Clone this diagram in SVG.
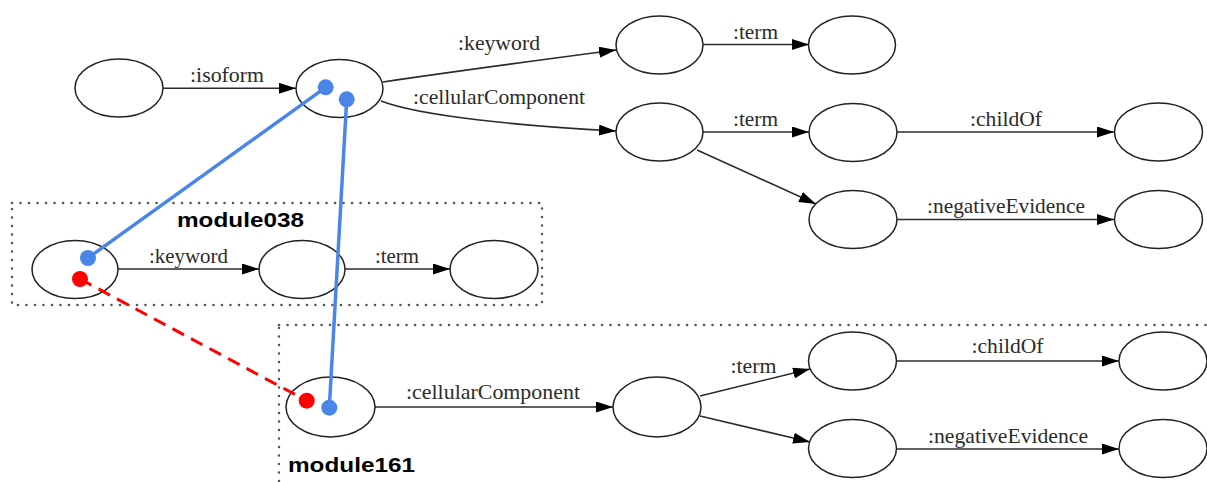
<svg xmlns="http://www.w3.org/2000/svg" width="1207" height="482" viewBox="0 0 1207 482">
<style>
.n{fill:#fff;stroke:#222;stroke-width:1.5}
.e{fill:none;stroke:#2b2b2b;stroke-width:1.6;marker-end:url(#ah)}
.l{font-family:"Liberation Serif","Times New Roman",serif;font-size:21px;fill:#2b2b2b;text-anchor:middle}
.m{font-family:"Liberation Sans",Arial,sans-serif;font-size:21px;font-weight:bold;fill:#000}
.box{fill:none;stroke:#555;stroke-width:2.5;stroke-dasharray:0.1 8.4;stroke-linecap:round}
.bl{stroke:#4a86e8;stroke-width:3.5;fill:none}
.rd{stroke:#ff0000;stroke-width:3;fill:none;stroke-dasharray:13 8}
</style>
<defs>
<marker id="ah" markerUnits="userSpaceOnUse" markerWidth="18" markerHeight="12" refX="17" refY="5.5" orient="auto">
<path d="M0,0 L17,5.5 L0,11 z" fill="#000"/>
</marker>
</defs>
<rect width="1207" height="482" fill="#fff"/>

<g id="clusters">
<rect class="box" x="12" y="203" width="530" height="102"/>
<text class="m" x="177" y="227" textLength="127" lengthAdjust="spacingAndGlyphs" font-size="20">module038</text>
<rect class="box" x="279" y="325" width="940" height="175"/>
<text class="m" x="288" y="472" textLength="127" lengthAdjust="spacingAndGlyphs">module161</text>
</g>

<g id="connectors">
<path class="e" d="M163,88.3 L296,88.3"/>
<path class="e" d="M383,82 C450,72 540,60 616,50"/>
<path class="e" d="M381,101 C420,116 520,126 616,131"/>
<path class="e" d="M703,44.5 L809,44.5"/>
<path class="e" d="M703,132 L809,132"/>
<path class="e" d="M897,132 L1114,132"/>
<path class="e" d="M697,150 L816,204"/>
<path class="e" d="M897,219.5 L1114,219.5"/>
<path class="e" d="M118,269 L259,269"/>
<path class="e" d="M345,269 L450,269"/>
<path class="e" d="M375,407 L613,407"/>
<path class="e" d="M700,396 L810,369"/>
<path class="e" d="M700,416 L810,442"/>
<path class="e" d="M897,361 L1119,361"/>
<path class="e" d="M897,449 L1119,449"/>
<text class="l" x="227" y="82" textLength="74" lengthAdjust="spacingAndGlyphs">:isoform</text>
<text class="l" x="499" y="50" textLength="82" lengthAdjust="spacingAndGlyphs">:keyword</text>
<text class="l" x="499" y="104" textLength="172" lengthAdjust="spacingAndGlyphs">:cellularComponent</text>
<text class="l" x="755.5" y="39" textLength="45" lengthAdjust="spacingAndGlyphs">:term</text>
<text class="l" x="755.5" y="126" textLength="45" lengthAdjust="spacingAndGlyphs">:term</text>
<text class="l" x="1006" y="126" textLength="72" lengthAdjust="spacingAndGlyphs">:childOf</text>
<text class="l" x="1006" y="213" textLength="158" lengthAdjust="spacingAndGlyphs">:negativeEvidence</text>
<text class="l" x="188.5" y="263" textLength="79" lengthAdjust="spacingAndGlyphs">:keyword</text>
<text class="l" x="397" y="263" textLength="44" lengthAdjust="spacingAndGlyphs">:term</text>
<text class="l" x="493" y="399" textLength="174" lengthAdjust="spacingAndGlyphs">:cellularComponent</text>
<text class="l" x="753.5" y="373" textLength="46" lengthAdjust="spacingAndGlyphs">:term</text>
<text class="l" x="1007.5" y="353" textLength="72" lengthAdjust="spacingAndGlyphs">:childOf</text>
<text class="l" x="1008" y="443" textLength="160" lengthAdjust="spacingAndGlyphs">:negativeEvidence</text>
</g>

<g id="nodes">
<g id="n_top_src"><ellipse class="n" cx="119" cy="88" rx="44" ry="29"/></g>
<g id="n_top_protein"><ellipse class="n" cx="339.5" cy="88.5" rx="43.5" ry="29"/></g>
<g id="n_top_keyword"><ellipse class="n" cx="659.5" cy="45" rx="43.5" ry="29"/></g>
<g id="n_top_kwterm"><ellipse class="n" cx="852" cy="45" rx="43.5" ry="29"/></g>
<g id="n_top_cc"><ellipse class="n" cx="659.5" cy="132" rx="43.5" ry="29"/></g>
<g id="n_top_ccterm"><ellipse class="n" cx="853" cy="132.5" rx="44" ry="29"/></g>
<g id="n_top_parent"><ellipse class="n" cx="1158.5" cy="132" rx="44" ry="29"/></g>
<g id="n_top_neg"><ellipse class="n" cx="853" cy="219.5" rx="44" ry="29"/></g>
<g id="n_top_negtarget"><ellipse class="n" cx="1158.5" cy="219.5" rx="44" ry="29"/></g>
<g id="n_m038_a"><ellipse class="n" cx="75" cy="269.5" rx="43" ry="29"/></g>
<g id="n_m038_b"><ellipse class="n" cx="302" cy="269.5" rx="43" ry="29"/></g>
<g id="n_m038_c"><ellipse class="n" cx="494" cy="269.5" rx="44" ry="29"/></g>
<g id="n_m161_a"><ellipse class="n" cx="330.5" cy="407" rx="44.5" ry="30"/></g>
<g id="n_m161_b"><ellipse class="n" cx="657" cy="407" rx="44" ry="30"/></g>
<g id="n_m161_term"><ellipse class="n" cx="852.5" cy="361" rx="44" ry="29"/></g>
<g id="n_m161_parent"><ellipse class="n" cx="1163" cy="361" rx="44" ry="29"/></g>
<g id="n_m161_neg"><ellipse class="n" cx="852.5" cy="448.5" rx="44" ry="29"/></g>
<g id="n_m161_negtarget"><ellipse class="n" cx="1163" cy="448.5" rx="44" ry="29"/></g>
</g>

<g id="mappings">
<line class="bl" x1="325.7" y1="87.3" x2="88" y2="258"/>
<line class="bl" x1="346.7" y1="99.3" x2="329.3" y2="407.7"/>
<line class="rd" x1="80" y1="279" x2="306.7" y2="400.7"/>
<circle cx="325.7" cy="87.3" r="8" fill="#4a86e8"/>
<circle cx="346.7" cy="99.3" r="8" fill="#4a86e8"/>
<circle cx="88" cy="258" r="8" fill="#4a86e8"/>
<circle cx="329.3" cy="407.7" r="8" fill="#4a86e8"/>
<circle cx="80" cy="279" r="8" fill="#ff0000"/>
<circle cx="306.7" cy="400.7" r="8" fill="#ff0000"/>
</g>
</svg>
